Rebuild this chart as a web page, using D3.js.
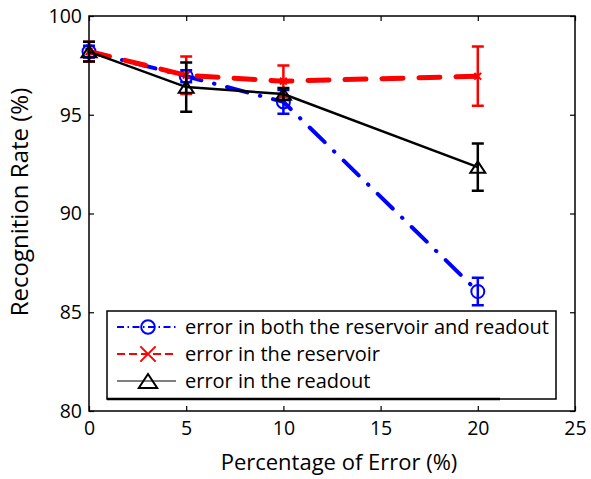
<!DOCTYPE html>
<html lang="en">
<head>
<meta charset="utf-8">
<title>Recognition rate vs error</title>
<script src="https://cdn.jsdelivr.net/npm/d3@7"></script>
<style>
  html, body { margin: 0; padding: 0; background: #fff; }
  text { font-family: "Open Sans", sans-serif; fill: #000; }
</style>
</head>
<body>
<script>
// data
var errorPct = [0, 5, 10, 20];
var bothMean = [98.2, 96.95, 95.65, 86.05];
var bothErr = [0.3, 0.3, 0.6, 0.7];
var reservoirMean = [98.2, 97.0, 96.7, 96.95];
var reservoirErr = [0.5, 0.95, 0.8, 1.5];
var readoutMean = [98.2, 96.4, 96.05, 92.35];
var readoutErr = [0.5, 1.25, 0.3, 1.2];
var xTicks = [0, 5, 10, 15, 20, 25];
var yTicks = [80, 85, 90, 95, 100];
var legendLabels = ["error in both the reservoir and readout", "error in the reservoir", "error in the readout"];

var W = 591, H = 479;
var m = {left: 89, right: 16, top: 16, bottom: 68};

var svg = d3.select("body").append("svg")
  .attr("width", W).attr("height", H);

var x = d3.scaleLinear().domain([0, 25]).range([m.left, W - m.right]);
var y = d3.scaleLinear().domain([80, 100]).range([H - m.bottom, m.top]);

// frame
svg.append("rect")
  .attr("x", x(0)).attr("y", y(100))
  .attr("width", x(25) - x(0)).attr("height", y(80) - y(100))
  .attr("fill", "none").attr("stroke", "#000").attr("stroke-width", 1.5);

// axes, ticks pointing inward
var fs = 19.5;
var bottomAxis = svg.append("g").attr("transform", "translate(0," + y(80) + ")")
  .call(d3.axisBottom(x).tickValues(xTicks).tickSizeInner(-5).tickSizeOuter(0).tickPadding(10));
var leftAxis = svg.append("g").attr("transform", "translate(" + x(0) + ",0)")
  .call(d3.axisLeft(y).tickValues(yTicks).tickSizeInner(-5).tickSizeOuter(0).tickPadding(7));
var topAxis = svg.append("g").attr("transform", "translate(0," + y(100) + ")")
  .call(d3.axisTop(x).tickValues(xTicks).tickSizeInner(-5).tickSizeOuter(0).tickFormat(""));
var rightAxis = svg.append("g").attr("transform", "translate(" + x(25) + ",0)")
  .call(d3.axisRight(y).tickValues(yTicks).tickSizeInner(-5).tickSizeOuter(0).tickFormat(""));

[bottomAxis, leftAxis, topAxis, rightAxis].forEach(function(g) {
  g.select(".domain").remove();
  g.selectAll("line").attr("stroke", "#000").attr("stroke-width", 1.2);
  g.selectAll("text").attr("font-size", fs).attr("font-family", "Open Sans, sans-serif");
});

// axis titles
svg.append("text")
  .attr("x", 339).attr("y", 470)
  .attr("text-anchor", "middle").attr("font-size", 22)
  .text("Percentage of Error  (%)");
svg.append("text")
  .attr("transform", "translate(28,202) rotate(-90)")
  .attr("text-anchor", "middle").attr("font-size", 24)
  .text("Recognition Rate (%)");

var series = [
  {mean: bothMean, err: bothErr, color: "#0000ff", width: 4, dash: "21,13,0.5,13", marker: "circle"},
  {mean: reservoirMean, err: reservoirErr, color: "#ff0000", width: 5, dash: "21,16", marker: "x"},
  {mean: readoutMean, err: readoutErr, color: "#000000", width: 2.5, dash: null, marker: "triangle"}
];

function drawMarker(g, type, cx, cy, color, r) {
  if (type === "circle") {
    g.append("circle").attr("cx", cx).attr("cy", cy).attr("r", r)
      .attr("fill", "none").attr("stroke", color).attr("stroke-width", 2);
  } else if (type === "x") {
    var s = r * 0.85;
    g.append("path")
      .attr("d", "M" + (cx - s) + "," + (cy - s) + "L" + (cx + s) + "," + (cy + s) +
                 "M" + (cx - s) + "," + (cy + s) + "L" + (cx + s) + "," + (cy - s))
      .attr("stroke", color).attr("stroke-width", 2).attr("fill", "none");
  } else {
    var h = r * 1.75, hw = r * 1.15;
    g.append("path")
      .attr("d", "M" + cx + "," + (cy - h * 0.5) + "L" + (cx + hw) + "," + (cy + h * 0.5) +
                 "L" + (cx - hw) + "," + (cy + h * 0.5) + "Z")
      .attr("fill", "none").attr("stroke", color).attr("stroke-width", 2);
  }
}

series.forEach(function(s) {
  var g = svg.append("g");
  var line = d3.line().x(function(d, i) { return x(errorPct[i]); }).y(function(d) { return y(d); });
  g.append("path").datum(s.mean)
    .attr("d", line)
    .attr("fill", "none").attr("stroke", s.color).attr("stroke-width", s.width)
    .attr("stroke-linecap", s.dash ? "round" : "butt")
    .attr("stroke-dasharray", s.dash);
  s.mean.forEach(function(v, i) {
    var cx = x(errorPct[i]);
    var y0 = y(v - s.err[i]), y1 = y(v + s.err[i]);
    g.append("path")
      .attr("d", "M" + cx + "," + y0 + "V" + y1 +
                 "M" + (cx - 6) + "," + y0 + "H" + (cx + 6) +
                 "M" + (cx - 6) + "," + y1 + "H" + (cx + 6))
      .attr("stroke", s.color).attr("stroke-width", 2.5).attr("fill", "none");
    drawMarker(g, s.marker, cx, y(v), s.color, s.marker === "x" ? 4 : 6.5);
  });
});

// legend
var lg = svg.append("g");
lg.append("rect")
  .attr("x", 107).attr("y", 311).attr("width", 449).attr("height", 88)
  .attr("fill", "#fff").attr("stroke", "#000").attr("stroke-width", 1.5);
lg.append("line").attr("x1", 107).attr("x2", 500).attr("y1", 399).attr("y2", 399)
  .attr("stroke", "#000").attr("stroke-width", 2.5);
var legendStyle = [
  {color: "#0000ff", width: 2, dash: "7,3.5,1.5,3.5", marker: "circle"},
  {color: "#ff0000", width: 2, dash: "8,4", marker: "x"},
  {color: "#000000", width: 1, dash: null, marker: "triangle"}
];
legendLabels.forEach(function(label, i) {
  var ly = 327 + i * 27;
  var st = legendStyle[i];
  lg.append("line").attr("x1", 117).attr("x2", 176).attr("y1", ly).attr("y2", ly)
    .attr("stroke", st.color).attr("stroke-width", st.width).attr("stroke-dasharray", st.dash);
  drawMarker(lg, st.marker, 148, ly, st.color, st.marker === "x" ? 9 : (st.marker === "circle" ? 6.8 : 8));
  lg.append("text").attr("x", 185).attr("y", ly + 7).attr("font-size", 20).text(label);
});
</script>
</body>
</html>
